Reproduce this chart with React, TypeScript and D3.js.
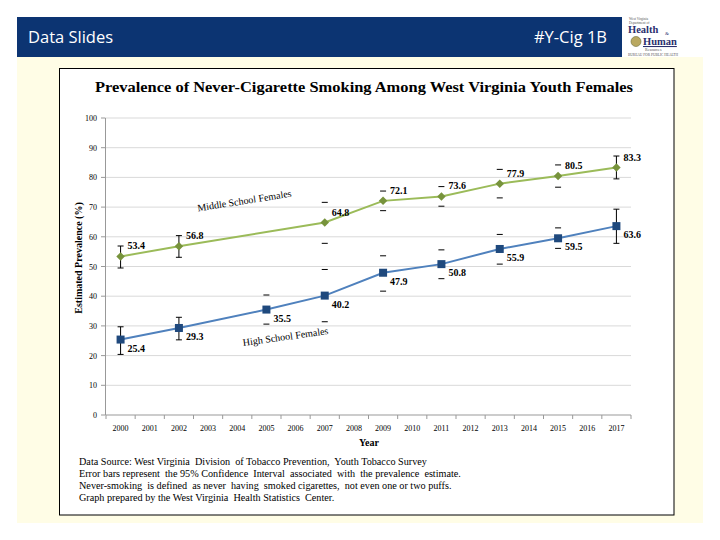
import React from "react";
import * as d3 from "d3";

const years = d3.range(2000, 2018).map(String);
const yTicks = [0, 10, 20, 30, 40, 50, 60, 70, 80, 90, 100];

const msYears = [2000, 2002, 2007, 2009, 2011, 2013, 2015, 2017];
const msValues = [53.4, 56.8, 64.8, 72.1, 73.6, 77.9, 80.5, 83.3];
const msLow = [49.5, 53.1, 57.8, 68.8, 70.3, 73.1, 76.7, 79.5];
const msHigh = [56.9, 60.4, 71.6, 75.4, 76.9, 82.7, 84.2, 87.2];

const hsYears = [2000, 2002, 2005, 2007, 2009, 2011, 2013, 2015, 2017];
const hsValues = [25.4, 29.3, 35.5, 40.2, 47.9, 50.8, 55.9, 59.5, 63.6];
const hsLow = [20.4, 25.3, 30.6, 31.4, 41.7, 45.9, 50.8, 56.1, 57.8];
const hsHigh = [29.7, 32.9, 40.4, 49.0, 53.6, 55.6, 60.8, 63.0, 69.3];

const stemYears = [2000, 2002, 2017];

const footnotes = [
  "Data Source: West Virginia  Division  of Tobacco Prevention,  Youth Tobacco Survey",
  "Error bars represent  the 95% Confidence  Interval  associated  with  the prevalence  estimate.",
  "Never-smoking  is defined  as never  having  smoked cigarettes,  not even one or two puffs.",
  "Graph prepared by the West Virginia  Health Statistics  Center.",
];

const serif = "'Liberation Serif', 'DejaVu Serif', serif";

export default function App() {
  const x = d3.scaleBand<string>().domain(years).range([106, 631]);
  const cx = (yr: number) => (x(String(yr)) as number) + x.bandwidth() / 2;
  const y = d3.scaleLinear().domain([0, 100]).range([415, 118]);
  const line = d3
    .line<[number, number]>()
    .x((d) => cx(d[0]))
    .y((d) => y(d[1]));

  const ms = msYears.map((yr, i) => [yr, msValues[i]] as [number, number]);
  const hs = hsYears.map((yr, i) => [yr, hsValues[i]] as [number, number]);

  const errorBars = (yrs: number[], lo: number[], hi: number[], key: string) =>
    yrs.map((yr, i) => (
      <g key={key + yr} stroke="#000" strokeWidth={1}>
        {stemYears.includes(yr) && (
          <line x1={cx(yr)} x2={cx(yr)} y1={y(lo[i])} y2={y(hi[i])} />
        )}
        <line x1={cx(yr) - 3} x2={cx(yr) + 3} y1={y(lo[i])} y2={y(lo[i])} />
        <line x1={cx(yr) - 3} x2={cx(yr) + 3} y1={y(hi[i])} y2={y(hi[i])} />
      </g>
    ));

  return (
    <svg width={720} height={540} style={{ position: "absolute", left: 0, top: 0 }}>
      <rect x={0} y={0} width={720} height={540} fill="#fff" />
      {/* panel */}
      <rect x={17} y={57} width={686} height={466} fill="#fffde6" />
      <rect x={59.5} y={68.5} width={614.5} height={446.5} fill="#fff" stroke="#000" strokeWidth={1} />
      {/* header */}
      <rect x={17} y={17} width={605} height={40} fill="#0c3472" />
      <text x={28} y={43} fill="#fff" fontFamily="'Open Sans', 'Noto Sans', sans-serif" fontSize={16.5}>
        Data Slides
      </text>
      <text x={607} y={43} fill="#fff" fontFamily="'Open Sans', 'Noto Sans', sans-serif" fontSize={16.5} textAnchor="end">
        #Y-Cig 1B
      </text>
      {/* logo */}
      <g fontFamily={serif}>
        <text x={629} y={20} fontSize={3.5} fill="#555">West Virginia</text>
        <text x={629} y={24} fontSize={3.5} fill="#555">Department of</text>
        <text x={628} y={33} fontSize={10.5} fontWeight="bold" fill="#2b2f6e">Health</text>
        <text x={665} y={35} fontSize={5} fill="#2b2f6e">&amp;</text>
        <circle cx={636} cy={41.5} r={5} fill="#b9a860" stroke="#6b6b3a" strokeWidth={0.6} />
        <text x={643} y={45} fontSize={10.5} fontWeight="bold" fill="#2b2f6e" textDecoration="underline">Human</text>
        <text x={645} y={51} fontSize={4} fill="#555">Resources</text>
        <text x={628} y={55.5} fontSize={3.5} fill="#555">BUREAU FOR PUBLIC HEALTH</text>
      </g>

      {/* title */}
      <text x={364} y={92} textAnchor="middle" fontFamily={serif} fontWeight="bold" fontSize={14.5} textLength={538} lengthAdjust="spacingAndGlyphs">
        Prevalence of Never-Cigarette Smoking Among West Virginia Youth Females
      </text>

      {/* grid */}
      {yTicks.slice(1).map((t) => (
        <line key={"g" + t} x1={106} x2={631} y1={y(t)} y2={y(t)} stroke="#d9d9d9" strokeWidth={1} />
      ))}
      {/* axes */}
      <line x1={105.5} x2={105.5} y1={y(100)} y2={y(0)} stroke="#999" />
      <line x1={106} x2={631} y1={y(0)} y2={y(0)} stroke="#999" />
      {yTicks.map((t) => (
        <g key={"yt" + t}>
          <line x1={101} x2={105.5} y1={y(t)} y2={y(t)} stroke="#999" />
          <text x={97} y={y(t) + 3} textAnchor="end" fontFamily={serif} fontSize={8}>
            {t}
          </text>
        </g>
      ))}
      {years.map((yr) => (
        <g key={"xt" + yr}>
          <line x1={(x(yr) as number) + x.bandwidth()} x2={(x(yr) as number) + x.bandwidth()} y1={y(0)} y2={y(0) + 4} stroke="#999" />
          <text x={cx(+yr)} y={431} textAnchor="middle" fontFamily={serif} fontSize={8}>
            {yr}
          </text>
        </g>
      ))}
      <line x1={106} x2={106} y1={y(0)} y2={y(0) + 4} stroke="#999" />
      <text x={369} y={446} textAnchor="middle" fontFamily={serif} fontWeight="bold" fontSize={10}>
        Year
      </text>
      <text transform={`translate(82,258) rotate(-90)`} textAnchor="middle" fontFamily={serif} fontWeight="bold" fontSize={10}>
        Estimated Prevalence (%)
      </text>

      {/* lines */}
      <path d={line(ms) as string} fill="none" stroke="#9bbb59" strokeWidth={2} />
      <path d={line(hs) as string} fill="none" stroke="#4f81bd" strokeWidth={2} />
      {errorBars(msYears, msLow, msHigh, "m")}
      {errorBars(hsYears, hsLow, hsHigh, "h")}
      {ms.map((d) => (
        <rect key={"md" + d[0]} x={cx(d[0]) - 3} y={y(d[1]) - 3} width={6} height={6} fill="#77933c" transform={`rotate(45 ${cx(d[0])} ${y(d[1])})`} />
      ))}
      {hs.map((d) => (
        <rect key={"hd" + d[0]} x={cx(d[0]) - 4} y={y(d[1]) - 4} width={8} height={8} fill="#1f497d" />
      ))}
      {/* value labels */}
      {ms.map((d) => (
        <text key={"ml" + d[0]} x={cx(d[0]) + 7} y={y(d[1]) - 7} fontFamily={serif} fontWeight="bold" fontSize={10}>
          {d[1].toFixed(1)}
        </text>
      ))}
      {hs.map((d) => (
        <text key={"hl" + d[0]} x={cx(d[0]) + 7} y={y(d[1]) + 12} fontFamily={serif} fontWeight="bold" fontSize={10}>
          {d[1].toFixed(1)}
        </text>
      ))}
      {/* series labels */}
      <text transform="translate(245,204) rotate(-9)" textAnchor="middle" fontFamily={serif} fontSize={10}>
        Middle School Females
      </text>
      <text transform="translate(286,340) rotate(-8)" textAnchor="middle" fontFamily={serif} fontSize={10}>
        High School Females
      </text>

      {/* footnotes */}
      {footnotes.map((f, i) => (
        <text key={"f" + i} x={79} y={465 + i * 12} fontFamily={serif} fontSize={10.2} style={{ whiteSpace: "pre" }}>
          {f}
        </text>
      ))}
    </svg>
  );
}
